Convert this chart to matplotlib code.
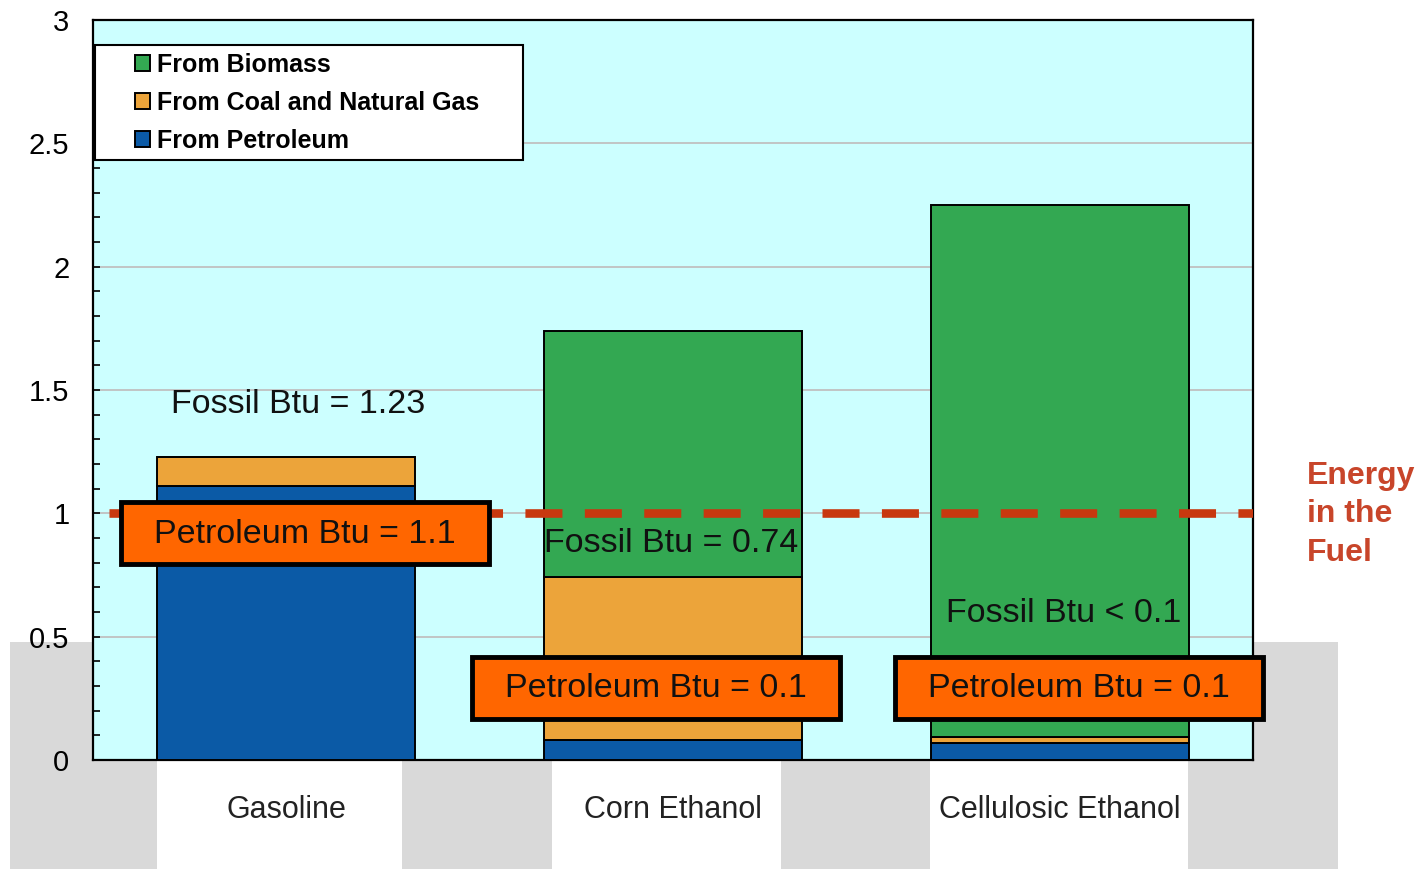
import numpy as np
import matplotlib
matplotlib.use('Agg')
from matplotlib import pyplot as plt
from matplotlib.patches import Rectangle
from matplotlib.transforms import blended_transform_factory

plt.rcParams['font.family'] = ['Liberation Sans', 'DejaVu Sans']

# Btu of input energy per Btu of fuel, split by source
fuels = ['Gasoline', 'Corn Ethanol', 'Cellulosic Ethanol']
petroleum = [1.11, 0.08, 0.07]
coal_gas = [0.12, 0.66, 0.025]
biomass = [0.0, 1.0, 2.155]

fossil_notes = ['Fossil Btu = 1.23', 'Fossil Btu = 0.74', 'Fossil Btu < 0.1']
petro_notes = ['Petroleum Btu = 1.1', 'Petroleum Btu = 0.1', 'Petroleum Btu = 0.1']
energy_in_fuel = 1.0

c_petro = '#0b5aa6'
c_coal = '#eca43a'
c_bio = '#33a852'
c_box = '#ff6600'
c_line = '#c8380f'

fig = plt.figure(figsize=(14.23, 8.69), dpi=100)
ax = fig.add_axes([0.0654, 0.1254, 0.8152, 0.8516])
ax.set_facecolor('#ccffff')

# grey band behind the lower part of the chart
band = Rectangle((0.007, 0.0), 0.933, 0.261, transform=fig.transFigure,
                 facecolor='#d9d9d9', edgecolor='none', zorder=-1)
fig.add_artist(band)

x = np.arange(len(fuels))
width = 0.667
kw = dict(width=width, edgecolor='black', linewidth=1.4, zorder=3)
ax.bar(x, petroleum, color=c_petro, label='From Petroleum', **kw)
ax.bar(x, coal_gas, bottom=petroleum, color=c_coal,
       label='From Coal and Natural Gas', **kw)
base = np.array(petroleum) + np.array(coal_gas)
ax.bar(x, biomass, bottom=base, color=c_bio, label='From Biomass', **kw)

ax.set_xlim(-0.5, 2.5)
ax.set_ylim(0, 3)

# energy content of the fuel itself
ax.plot([-0.46, 2.5], [energy_in_fuel, energy_in_fuel], color=c_line,
        lw=6.2, dashes=(4.3, 2.6), solid_capstyle='butt', zorder=4)
fig.text(0.9185, 0.408, 'Energy\nin the\nFuel', color='#c8452a',
         fontsize=23, fontweight='bold', ha='left', va='center', linespacing=1.36)

ax.set_yticks(np.arange(0, 3.01, 0.5))
ax.set_yticklabels(['0', '0.5', '1', '1.5', '2', '2.5', '3'])
ax.set_yticks(np.arange(0, 3.01, 0.1), minor=True)
ax.tick_params(axis='y', which='both', direction='in', length=5, width=1.2,
               labelsize=21, pad=17)
ax.yaxis.grid(True, color='#c0c0c0', linewidth=1.3, zorder=0)
ax.set_axisbelow(True)

# white tabs under the category names (left / right edge from each bar centre)
tab_edges = [(-0.334, 0.299), (-0.313, 0.279), (-0.335, 0.332)]
trans = blended_transform_factory(ax.transData, ax.transAxes)
for xi, (lo, hi) in zip(x, tab_edges):
    ax.add_patch(Rectangle((xi + lo, -0.2), hi - lo, 0.2, transform=trans,
                           facecolor='white', edgecolor='none', clip_on=False,
                           zorder=0.5))
ax.set_xticks(x)
ax.set_xticklabels(fuels, fontsize=22, color='#222222')
ax.tick_params(axis='x', length=0, pad=25)

for s in ax.spines.values():
    s.set_linewidth(1.6)
    s.set_color('black')

# fossil energy notes
fossil_pos = [(0.03, 1.44), (0.995, 0.876), (2.01, 0.592)]
for (tx, ty), note in zip(fossil_pos, fossil_notes):
    ax.text(tx, ty, note, fontsize=24.5, ha='center', va='center',
            color='#111111', zorder=6)

# petroleum callout boxes
petro_pos = [(0.048, 0.915), (0.956, 0.288), (2.05, 0.288)]
for (tx, ty), note in zip(petro_pos, petro_notes):
    ax.add_patch(Rectangle((tx - 0.475, ty - 0.121), 0.95, 0.252,
                           facecolor=c_box, edgecolor='black', linewidth=3.5,
                           clip_on=False, zorder=7))
    ax.text(tx, ty, note, fontsize=24.5, ha='center', va='center',
            color='#111111', zorder=8, clip_on=False)

# legend with its own box
ax.add_patch(Rectangle((0.002, 0.811), 0.369, 0.155, transform=ax.transAxes,
                       facecolor='white', edgecolor='black', linewidth=1.5,
                       zorder=9))
handles, labels = ax.get_legend_handles_labels()
leg = ax.legend(handles[::-1], labels[::-1], loc='upper left',
                bbox_to_anchor=(0.036, 0.956), frameon=False, borderpad=0,
                borderaxespad=0, prop={'size': 18, 'weight': 'bold'},
                handlelength=0.6, handleheight=0.6, handletextpad=0.3,
                labelspacing=0.56)
leg.set_zorder(10)

fig.savefig('out.png', dpi=100)
